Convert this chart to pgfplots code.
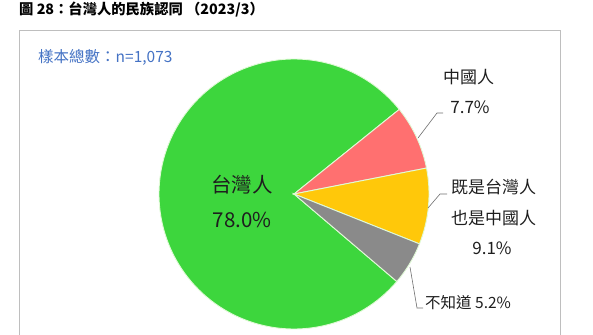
\documentclass[border=0pt]{standalone}
\usepackage{pgfplots}
\pgfplotsset{compat=1.18}
\usepackage{fontspec}
\setmainfont{Noto Sans CJK TC}
\definecolor{pieGreen}{RGB}{61,214,61}
\definecolor{pieRed}{RGB}{255,112,112}
\definecolor{pieYellow}{RGB}{255,200,10}
\definecolor{pieGray}{RGB}{138,138,138}
\definecolor{pieEdge}{RGB}{225,250,215}
\definecolor{nBlue}{RGB}{68,114,196}
\definecolor{txt}{RGB}{30,30,30}
\definecolor{boxGray}{RGB}{190,190,190}
\definecolor{leader}{RGB}{110,110,110}
\begin{document}
\begin{tikzpicture}
% shares (%)
\def\vTW{78.0}\def\vCN{7.7}\def\vBO{9.1}\def\vNA{5.2}
\pgfmathsetmacro\aA{38.8}
\pgfmathsetmacro\aB{\aA-3.6*\vCN}
\pgfmathsetmacro\aC{\aB-3.6*\vBO}
\pgfmathsetmacro\aD{\aC-3.6*\vNA}
\pgfmathsetmacro\aE{\aD-3.6*\vTW}
\begin{axis}[hide axis, scale only axis, width=593pt, height=334pt,
  xmin=0, xmax=593, ymin=0, ymax=334, clip=true]
% frame box
\addplot[draw=boxGray, line width=1pt] coordinates {(19.5,-10) (19.5,303.5) (560.5,303.5) (560.5,-10)};
% wedges
\addplot[draw=pieEdge, line width=0.9pt, fill=pieGreen, domain=\aE:\aD, samples=200, variable=\t]
  ({294+135*cos(\t)},{140+135*sin(\t)}) -- (294,140) -- cycle;
\addplot[draw=pieEdge, line width=0.9pt, fill=pieRed, domain=\aB:\aA, samples=30, variable=\t]
  ({294+135*cos(\t)},{140+135*sin(\t)}) -- (294,140) -- cycle;
\addplot[draw=pieEdge, line width=0.9pt, fill=pieYellow, domain=\aC:\aB, samples=30, variable=\t]
  ({294+135*cos(\t)},{140+135*sin(\t)}) -- (294,140) -- cycle;
\addplot[draw=pieEdge, line width=0.9pt, fill=pieGray, domain=\aD:\aC, samples=30, variable=\t]
  ({294+135*cos(\t)},{140+135*sin(\t)}) -- (294,140) -- cycle;
% leader lines
\addplot[leader, line width=0.6pt] coordinates {(418,196) (437,221) (443,221)};
\addplot[leader, line width=0.6pt] coordinates {(428,126) (440,140) (447,140)};
\addplot[leader, line width=0.6pt] coordinates {(410,67) (417,26) (423,26)};
\end{axis}
\begin{scope}[x=1pt,y=1pt]
\node[anchor=west, inner sep=0pt, text=black] at (19,324) {\fontsize{14.3pt}{16pt}\selectfont\bfseries 圖 28：台灣人的民族認同 （2023/3）};
\node[anchor=west, inner sep=0pt, text=nBlue] at (38,277) {\fontsize{15.5pt}{17pt}\selectfont 樣本總數：n=1,073};
\node[inner sep=0pt, text=txt] at (242,149) {\fontsize{20.5pt}{22pt}\selectfont 台灣人};
\node[inner sep=0pt, text=txt] at (242,114) {\fontsize{20.5pt}{22pt}\selectfont 78.0\%};
\node[inner sep=0pt, text=txt] at (468.5,257) {\fontsize{17pt}{19pt}\selectfont 中國人};
\node[inner sep=0pt, text=txt] at (470,227) {\fontsize{17pt}{19pt}\selectfont 7.7\%};
\node[inner sep=0pt, text=txt] at (493.5,147) {\fontsize{17pt}{19pt}\selectfont 既是台灣人};
\node[inner sep=0pt, text=txt] at (493.5,116) {\fontsize{17pt}{19pt}\selectfont 也是中國人};
\node[inner sep=0pt, text=txt] at (492,86) {\fontsize{17pt}{19pt}\selectfont 9.1\%};
\node[anchor=west, inner sep=0pt, text=txt] at (425,31) {\fontsize{15.5pt}{17pt}\selectfont 不知道 5.2\%};
\end{scope}
\pgfresetboundingbox
\path[use as bounding box] (0,0) rectangle (593pt,334pt);
\end{tikzpicture}
\end{document}
